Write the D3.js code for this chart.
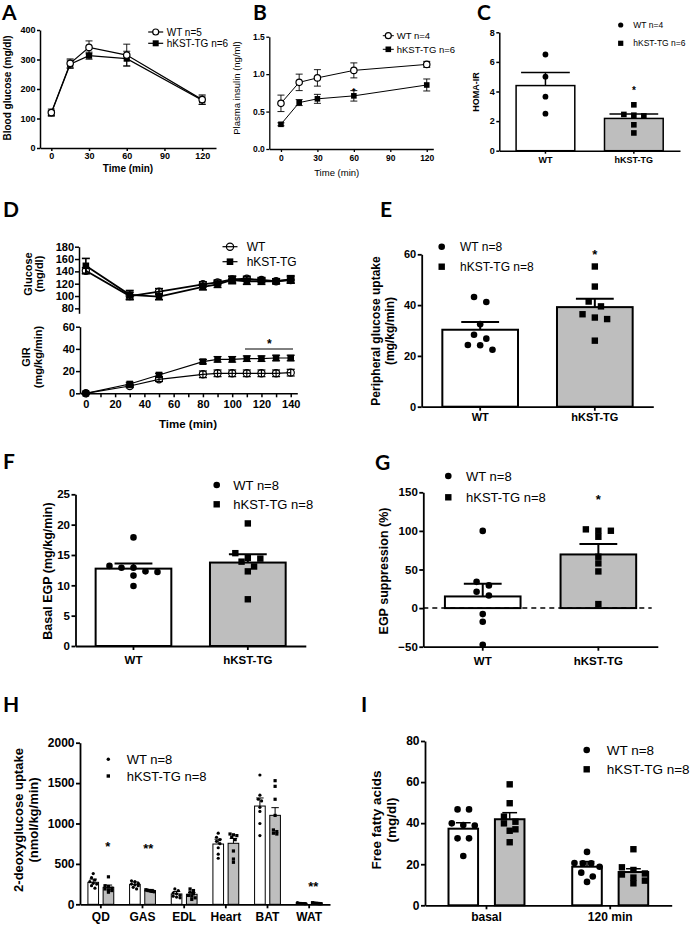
<!DOCTYPE html>
<html><head><meta charset="utf-8">
<script src="https://cdn.jsdelivr.net/npm/d3@7"></script>
<style>
body{margin:0;background:#fff;}
svg{display:block;}
</style></head><body>
<script>
// ================= DATA =================
// A: glucose tolerance test
const timeA = [0, 15, 30, 60, 120];
const gttWT = [120, 287, 341, 315, 164];
const gttWTsem = [12, 15, 22, 37, 16];
const gttTG = [118, 284, 313, 303, 162];
const gttTGsem = [8, 14, 12, 25, 14];
const ticksAy = [0, 100, 200, 300, 400];
const ticksAx = [0, 30, 60, 90, 120];
// B: plasma insulin
const timeB = [0, 15, 30, 60, 120];
const insWT = [0.61, 0.89, 0.95, 1.05, 1.13];
const insWTsem = [0.11, 0.11, 0.11, 0.10, 0.04];
const insTG = [0.33, 0.62, 0.67, 0.71, 0.855];
const insTGsem = [0.02, 0.04, 0.06, 0.07, 0.08];
const ticksBy = [0, 0.5, 1.0, 1.5];
const ticksBx = [0, 30, 60, 90, 120];
// C: HOMA-IR
const groups = ["WT", "hKST-TG"];
const homaWT = [6.5, 5.0, 3.65, 2.5];
const homaTG = [3.1, 2.45, 2.4, 2.35, 1.75, 1.2];
const homaMean = [4.4, 2.18];
const homaSem = [0.88, 0.3];
const ticksCy = [0, 2, 4, 6, 8];
// D: clamp
const timeD = [0, 30, 50, 80, 90, 100, 110, 120, 130, 140];
const clampGluWT = [141, 100, 107, 119, 122, 127, 128, 126, 124, 126];
const clampGluWTsem = [5, 6, 5, 4, 4, 5, 4, 4, 4, 5];
const clampGluTG = [149, 102, 99, 115, 119, 126, 124, 124, 124, 127];
const clampGluTGsem = [12, 7, 5, 5, 5, 6, 5, 5, 4, 6];
const girWT = [0, 6.6, 12.6, 17.1, 18, 18, 18, 18, 18, 18.6];
const girWTsem = [0.5, 1.5, 2, 3, 3, 3, 3, 3, 3, 3];
const girTG = [0, 8.4, 16.5, 28.5, 30.6, 30.6, 31.2, 31.2, 31.8, 31.8];
const girTGsem = [0.5, 1.5, 1.5, 2, 2.5, 2.5, 2.5, 2.5, 2.5, 2.5];
const ticksDgluY = [80, 100, 120, 140, 160, 180];
const ticksDgirY = [0, 20, 40, 60];
const ticksDx = [0, 10, 20, 30, 40, 50, 60, 70, 80, 90, 100, 110, 120, 130, 140];
// E: peripheral glucose uptake
const pguWT = [43.2, 41.2, 32.5, 28.3, 26.8, 24.3, 24.2, 22.4];
const pguTG = [55.2, 47.3, 41.4, 39.5, 36.4, 35.1, 34.5, 26];
const pguMean = [30.3, 39.2];
const pguSem = [3.0, 3.3];
const ticksEy = [0, 20, 40, 60];
// F: basal EGP
const egpWT = [17.9, 13.2, 12.9, 12.9, 12.3, 12.2, 11.6, 9.9];
const egpTG = [20.2, 15.3, 14.5, 14.4, 13.9, 13.1, 12.3, 7.7];
const egpMean = [12.75, 13.75];
const egpSem = [0.85, 1.35];
const ticksFy = [0, 5, 10, 15, 20, 25];
// G: EGP suppression
const supWT = [100, 34, 29.4, 21.2, 16.4, -7.8, -17.7, -47.5];
const supTG = [102, 100.2, 100.2, 92.4, 66.5, 57.9, 47.5, 5.2];
const supMean = [15.1, 69.5];
const supSem = [16.4, 13.5];
const ticksGy = [-50, 0, 50, 100, 150];
// H: 2-deoxyglucose uptake
const tissues = ["QD", "GAS", "EDL", "Heart", "BAT", "WAT"];
const dgWTmean = [272, 247, 128, 746, 1216, 12];
const dgWTsem = [40, 30, 30, 60, 100, 3];
const dgTGmean = [210, 169, 124, 755, 1101, 12];
const dgTGsem = [28, 15, 22, 60, 95, 3];
const dgWT_QD = [380, 330, 300, 280, 260, 250, 230, 200];
const dgTG_QD = [340, 230, 220, 200, 190, 180, 170, 150];
const dgWT_GAS = [290, 280, 260, 250, 240, 230, 210, 190];
const dgTG_GAS = [180, 175, 170, 170, 165, 160, 160, 155];
const dgWT_EDL = [190, 170, 140, 130, 110, 100, 90, 80];
const dgTG_EDL = [190, 170, 150, 130, 110, 100, 80, 60];
const dgWT_Heart = [880, 830, 800, 780, 750, 700, 620, 570];
const dgTG_Heart = [870, 860, 850, 830, 800, 660, 560, 520];
const dgWT_BAT = [1600, 1350, 1300, 1280, 1200, 1150, 1000, 850];
const dgTG_BAT = [1530, 1460, 1300, 1100, 920, 900, 880, 870];
const dgWT_WAT = [20, 15, 12, 12, 10, 10, 8, 8];
const dgTG_WAT = [20, 15, 12, 12, 10, 10, 8, 8];
const ticksHy = [0, 500, 1000, 1500, 2000];
// I: free fatty acids
const ffaCats = ["basal", "120 min"];
const ffaWTmean = [37.3, 18.8];
const ffaWTsem = [2.9, 2.5];
const ffaTGmean = [41.9, 16.2];
const ffaTGsem = [3.2, 1.6];
const ffaWT_basal = [46.7, 46.7, 39.9, 39.1, 38.8, 32.6, 32.6, 24];
const ffaTG_basal = [58.9, 49.7, 43.2, 40.7, 39.9, 37, 36.3, 30.7];
const ffaWT_120 = [26, 20.6, 20.4, 20.4, 18.8, 15.9, 14, 11.4];
const ffaTG_120 = [27.3, 18.5, 17.2, 15.5, 15, 13.5, 12, 10.7];
const ticksIy = [0, 20, 40, 60, 80];

// ================= HELPERS =================
const FONT = '"Liberation Sans", Arial, Helvetica, sans-serif';
const GRAY = "#bebebe";
const svg = d3.select("body").append("svg").attr("width", 694).attr("height", 925)
  .style("font-family", FONT);
svg.append("rect").attr("width", 694).attr("height", 925).attr("fill", "#fff");

function letter(t, x, y) {
  svg.append("text").attr("x", x).attr("y", y).attr("font-family", "Lato, 'Open Sans', sans-serif")
    .attr("font-weight", 700).attr("font-size", 21).attr("fill", "#000").text(t);
}
function styleAxis(a, fs, lw) {
  a.attr("font-family", FONT);
  a.select(".domain").attr("stroke", "#000").attr("stroke-width", lw || 1.5);
  a.selectAll(".tick line").attr("stroke", "#000").attr("stroke-width", lw || 1.5);
  a.selectAll(".tick text").attr("fill", "#000").attr("font-size", fs).attr("font-weight", "bold");
}
function yAxis(y, x, ticks, fs, fmt, ts, pad, lw) {
  const ax = d3.axisLeft(y).tickValues(ticks).tickSizeOuter(0).tickSizeInner(ts || 4).tickPadding(pad == null ? 1.5 : pad);
  ax.tickFormat(fmt || d3.format("d"));
  const a = svg.append("g").attr("transform", `translate(${x},0)`).call(ax);
  styleAxis(a, fs, lw); return a;
}
function xAxis(scale, y, ticks, fs, fmt, ts, pad, lw) {
  const ax = d3.axisBottom(scale).tickSizeOuter(0).tickSizeInner(ts || 4).tickPadding(pad == null ? 2 : pad);
  if (ticks) ax.tickValues(ticks);
  if (fmt) ax.tickFormat(fmt);
  const a = svg.append("g").attr("transform", `translate(0,${y})`).call(ax);
  styleAxis(a, fs, lw); return a;
}
function vtitle(lines, x, cy, fs, weight, lh) {
  const t = svg.append("text").attr("transform", `translate(${x},${cy}) rotate(-90)`)
    .attr("text-anchor", "middle").attr("font-size", fs).attr("font-weight", weight || "bold").attr("fill", "#000");
  lines.forEach((l, i) => t.append("tspan").attr("x", 0).attr("dy", i === 0 ? 0 : lh).text(l));
}
function htext(s, x, y, fs, weight, anchor) {
  svg.append("text").attr("x", x).attr("y", y).attr("font-size", fs).attr("font-weight", weight || "normal")
    .attr("text-anchor", anchor || "start").attr("fill", "#000").text(s);
}
function star(s, cx, cy, fs) {
  htext(s, cx, cy + 0.58 * fs, fs, "bold", "middle");
}
function marker(x, y, shape, r, sw) {
  if (shape === "circle") svg.append("circle").attr("cx", x).attr("cy", y).attr("r", r).attr("fill", "#000");
  else if (shape === "ocircle") svg.append("circle").attr("cx", x).attr("cy", y).attr("r", r)
    .attr("fill", "#fff").attr("stroke", "#000").attr("stroke-width", sw || 1.2);
  else if (shape === "ncircle") svg.append("circle").attr("cx", x).attr("cy", y).attr("r", r)
    .attr("fill", "none").attr("stroke", "#000").attr("stroke-width", sw || 1.2);
  else svg.append("rect").attr("x", x - r).attr("y", y - r).attr("width", 2 * r).attr("height", 2 * r).attr("fill", "#000");
}
function legendRow(x, cy, shape, r, tx, label, fs, span, lw) {
  if (span) svg.append("line").attr("x1", x - span).attr("x2", x + span).attr("y1", cy).attr("y2", cy)
    .attr("stroke", "#000").attr("stroke-width", lw || 1.2);
  marker(x, cy, shape, r);
  htext(label, tx, cy + 0.35 * fs, fs, "normal");
}
function seg(x1, y1, x2, y2, w, dash) {
  const l = svg.append("line").attr("x1", x1).attr("y1", y1).attr("x2", x2).attr("y2", y2)
    .attr("stroke", "#000").attr("stroke-width", w || 1.2);
  if (dash) l.attr("stroke-dasharray", dash);
  return l;
}
function lineSeries(x, y, t, v, sem, shape, r, lw, capW, elw) {
  const line = d3.line().x((d, i) => x(t[i])).y(d => y(d));
  svg.append("path").datum(v).attr("d", line).attr("fill", "none").attr("stroke", "#000").attr("stroke-width", lw);
  return () => {
    v.forEach((d, i) => {
      const cx = x(t[i]);
      const y1 = y(d + sem[i]), y2 = y(d - sem[i]);
      seg(cx, y1, cx, y2, elw);
      seg(cx - capW / 2, y1, cx + capW / 2, y1, elw);
      seg(cx - capW / 2, y2, cx + capW / 2, y2, elw);
    });
    v.forEach((d, i) => marker(x(t[i]), y(d), shape, r));
  };
}
function swarm(values, y, diam, spacing, maxW) {
  const sorted = values.map(v => ({ v, py: y(v) })).sort((a, b) => a.py - b.py);
  const out = []; let cl = [];
  const flush = () => {
    const n = cl.length;
    const sp = (maxW && n > 1) ? Math.min(spacing, maxW / (n - 1)) : spacing;
    cl.forEach((p, i) => { p.dx = (i - (n - 1) / 2) * sp; out.push(p); });
    cl = [];
  };
  sorted.forEach(p => { if (cl.length && p.py - cl[0].py >= diam) flush(); cl.push(p); });
  flush();
  return out;
}
function barGroup(x0, bw, y, base, mean, sem, fill, sw, capFrac, elw, pts, shape, r, spacing, maxW) {
  const yb = y(base), yt = y(mean);
  svg.append("rect").attr("x", x0).attr("y", Math.min(yb, yt)).attr("width", bw).attr("height", Math.abs(yb - yt))
    .attr("fill", fill).attr("stroke", "#000").attr("stroke-width", sw);
  const cx = x0 + bw / 2, ye = y(mean + sem);
  seg(cx, yt, cx, ye, elw);
  seg(cx - bw * capFrac / 2, ye, cx + bw * capFrac / 2, ye, elw);
  swarm(pts, y, 2 * r, spacing, maxW).forEach(p => marker(cx + p.dx, p.py, shape, r));
}

// ================= PANEL A =================
letter("A", 2, 20);
{
  const x = d3.scaleLinear().domain([-9, 131]).range([40, 216]);
  const y = d3.scaleLinear().domain([0, 400]).range([148, 30]);
  yAxis(y, 40, ticksAy, 9, null, 3, 1.5);
  xAxis(x, 148, ticksAx, 9, null, 3, 2);
  const fWT = lineSeries(x, y, timeA, gttWT, gttWTsem, "ocircle", 3.2, 1.2, 7, 0.9);
  const fTG = lineSeries(x, y, timeA, gttTG, gttTGsem, "square", 3.1, 1.2, 7, 0.9);
  fTG(); fWT();
  vtitle(["Blood glucose (mg/dl)"], 10.5, 88, 10, "bold");
  htext("Time (min)", 128, 171.5, 10, "bold", "middle");
  legendRow(155.7, 32, "ocircle", 3, 166.7, "WT n=5", 10, 7.5);
  legendRow(155.7, 43.3, "square", 3, 166.7, "hKST-TG n=6", 10, 7.5);
}

// ================= PANEL B =================
letter("B", 253, 20);
{
  const x = d3.scaleLinear().domain([-9.6, 125.4]).range([269.3, 433.3]);
  const y = d3.scaleLinear().domain([0, 1.5]).range([149, 36.7]);
  yAxis(y, 269.3, ticksBy, 8.5, d3.format(".1f"), 3, 1.5, 1.3);
  xAxis(x, 149, ticksBx, 8.5, null, 3, 3, 1.3);
  const fWT = lineSeries(x, y, timeB, insWT, insWTsem, "ocircle", 3.2, 1, 7, 0.9);
  const fTG = lineSeries(x, y, timeB, insTG, insTGsem, "square", 2.8, 1, 7, 0.9);
  fTG(); fWT();
  star("*", x(60), 88.3, 9);
  vtitle(["Plasma insulin (ng/ml)"], 240, 88, 9.5, "normal");
  htext("Time (min)", 336.7, 176, 9.5, "normal", "middle");
  legendRow(388.3, 35.7, "ocircle", 3, 396.7, "WT n=4", 9.5, 5.5, 1);
  legendRow(388.3, 49.3, "square", 2.8, 396.7, "hKST-TG n=6", 9.5, 5.5, 1);
}

// ================= PANEL C =================
letter("C", 477, 20);
{
  const y = d3.scaleLinear().domain([0, 8]).range([150.7, 32.3]);
  const x = d3.scaleBand().domain(groups).range([499.3, 680]).paddingInner(0.336).paddingOuter(0.19);
  const bw = x.bandwidth();
  barGroup(x("WT"), bw, y, 0, homaMean[0], homaSem[0], "#fff", 1.5, 0.83, 1.5, homaWT, "circle", 2.9, 9);
  barGroup(x("hKST-TG"), bw, y, 0, homaMean[1], homaSem[1], GRAY, 1.5, 0.83, 1.5, homaTG, "square", 2.8, 10);
  yAxis(y, 499.3, ticksCy, 9, null, 3, 1.5);
  xAxis(x, 150.7, null, 9, null, 3, 3);
  star("*", x("hKST-TG") + bw / 2, 88.3, 10);
  vtitle(["HOMA-IR"], 478.5, 92, 9, "bold");
  legendRow(620.7, 25, "circle", 2.6, 633.3, "WT n=4", 8.5);
  legendRow(620.7, 43.3, "square", 2.6, 633.3, "hKST-TG n=6", 8.5);
}

// ================= PANEL D =================
letter("D", 3, 217);
{
  const x = d3.scaleLinear().domain([-4, 144.5]).range([80, 297.3]);
  const yG = d3.scaleLinear().domain([72, 180]).range([313.3, 246.7]);
  const yR = d3.scaleLinear().domain([0, 60]).range([393.3, 326.7]);
  // top glucose
  const fWT = lineSeries(x, yG, timeD, clampGluWT, clampGluWTsem, "ncircle", 3.6, 1.8, 8, 1.6);
  const fTG = lineSeries(x, yG, timeD, clampGluTG, clampGluTGsem, "square", 3.3, 1.8, 8, 1.6);
  fWT(); fTG();
  yAxis(yG, 79, ticksDgluY, 11, null, 4, 1);
  // bottom GIR
  const gWT = lineSeries(x, yR, timeD, girWT, girWTsem, "ncircle", 3.6, 1.2, 8, 1.2);
  const gTG = lineSeries(x, yR, timeD, girTG, girTGsem, "square", 3.3, 1.2, 8, 1.2);
  gWT(); gTG();
  yAxis(yR, 80, ticksDgirY, 11, null, 4, 1);
  xAxis(x, 393.3, ticksDx, 11, d => d % 20 === 0 ? d : "", 4, 3);
  seg(245, 349, 293, 349, 1);
  star("*", 269.3, 341, 12);
  vtitle(["Glucose", "(mg/dl)"], 31.5, 274, 11, "bold", 11);
  vtitle(["GIR", "(mg/kg/min)"], 30, 357, 11, "bold", 11.5);
  htext("Time (min)", 188, 428, 11.5, "bold", "middle");
  legendRow(230, 246.7, "ncircle", 3.6, 246.7, "WT", 12, 7.5);
  legendRow(230, 261.7, "square", 3.3, 246.7, "hKST-TG", 12, 7.5);
}

// ================= PANEL E =================
letter("E", 380, 217);
{
  const y = d3.scaleLinear().domain([0, 60]).range([406.7, 254.3]);
  const x = d3.scaleBand().domain(groups).range([421.7, 653.3]).paddingInner(0.34).paddingOuter(0.18);
  const bw = x.bandwidth();
  barGroup(x("WT"), bw, y, 0, pguMean[0], pguSem[0], "#fff", 2, 0.5, 2, pguWT, "circle", 3.3, 12.3);
  barGroup(x("hKST-TG"), bw, y, 0, pguMean[1], pguSem[1], GRAY, 2, 0.5, 2, pguTG, "square", 3.2, 12.3);
  yAxis(y, 421.7, ticksEy, 11, null, 4, 1.5, 1.8);
  xAxis(x, 406.7, null, 11, null, 4, 3, 1.8);
  star("*", x("hKST-TG") + bw / 2, 251.7, 13);
  vtitle(["Peripheral glucose uptake", "(mg/kg/min)"], 380, 331, 12, "bold", 13.5);
  legendRow(441.7, 246.7, "circle", 3.3, 460, "WT n=8", 12);
  legendRow(441.7, 266.7, "square", 3.2, 460, "hKST-TG n=8", 12);
}

// ================= PANEL F =================
letter("F", 3, 469);
{
  const y = d3.scaleLinear().domain([0, 25]).range([646, 494.3]);
  const x = d3.scaleBand().domain(groups).range([75.5, 305.8]).paddingInner(0.338).paddingOuter(0.176);
  const bw = x.bandwidth();
  barGroup(x("WT"), bw, y, 0, egpMean[0], egpSem[0], "#fff", 2, 0.5, 2, egpWT, "circle", 3.3, 12);
  barGroup(x("hKST-TG"), bw, y, 0, egpMean[1], egpSem[1], GRAY, 2, 0.5, 2, egpTG, "square", 3.2, 12.5);
  yAxis(y, 75.5, ticksFy, 11.5, null, 4, 1.5, 1.8);
  xAxis(x, 646, null, 11.5, null, 4, 6, 1.8);
  vtitle(["Basal EGP (mg/kg/min)"], 51.5, 571, 12.5, "bold");
  legendRow(216.7, 485, "circle", 3.3, 233.3, "WT n=8", 13);
  legendRow(216.7, 504.3, "square", 3.2, 233.3, "hKST-TG n=8", 13);
}

// ================= PANEL G =================
letter("G", 375, 470);
{
  const y = d3.scaleLinear().domain([-50, 150]).range([646.7, 492.3]);
  const x = d3.scaleBand().domain(groups).range([423.3, 657.8]).paddingInner(0.346).paddingOuter(0.187);
  const bw = x.bandwidth();
  barGroup(x("WT"), bw, y, 0, supMean[0], supSem[0], "#fff", 2, 0.5, 2, supWT, "circle", 3.3, 12.3);
  barGroup(x("hKST-TG"), bw, y, 0, supMean[1], supSem[1], GRAY, 2, 0.5, 2, supTG, "square", 3.2, 12.5);
  seg(423.3, y(0), 651.7, y(0), 1.5, "5,4");
  yAxis(y, 423.3, ticksGy, 11.5, null, 4, 1.5, 1.8);
  xAxis(x, 646.7, null, 11.5, null, 4, 6, 1.8);
  star("*", x("hKST-TG") + bw / 2, 496.7, 13);
  vtitle(["EGP suppression (%)"], 387.5, 571, 12.5, "bold");
  legendRow(448.3, 476, "circle", 3.3, 466, "WT n=8", 13);
  legendRow(448.3, 497.3, "square", 3.2, 466, "hKST-TG n=8", 13);
}

// ================= PANEL H =================
letter("H", 3, 712);
{
  const y = d3.scaleLinear().domain([0, 2000]).range([904.3, 742.7]);
  const x = d3.scaleBand().domain(tissues).range([80, 330]).paddingInner(0.38).paddingOuter(0.19);
  const xi = d3.scaleBand().domain(groups).range([0, x.bandwidth()]).paddingInner(0.3);
  const bw = xi.bandwidth();
  const wtPts = [dgWT_QD, dgWT_GAS, dgWT_EDL, dgWT_Heart, dgWT_BAT, dgWT_WAT];
  const tgPts = [dgTG_QD, dgTG_GAS, dgTG_EDL, dgTG_Heart, dgTG_BAT, dgTG_WAT];
  tissues.forEach((t, i) => {
    barGroup(x(t) + xi("WT"), bw, y, 0, dgWTmean[i], dgWTsem[i], "#fff", 1, 0.7, 1, wtPts[i], "circle", 1.6, 3.4, bw * 0.8);
    barGroup(x(t) + xi("hKST-TG"), bw, y, 0, dgTGmean[i], dgTGsem[i], GRAY, 1, 0.7, 1, tgPts[i], "square", 1.6, 3.4, bw * 0.8);
  });
  yAxis(y, 80, ticksHy, 12, null, 4, 1.5, 1.8);
  xAxis(x, 904.3, null, 12, null, 4, 4, 1.8);
  star("*", 107.7, 843.3, 13);
  star("**", 148.3, 845, 13);
  star("**", 313.3, 883.3, 13);
  vtitle(["2-deoxyglucose uptake", "(nmol/kg/min)"], 23, 820, 13, "bold", 15);
  legendRow(108.3, 759.3, "circle", 1.7, 126.7, "WT n=8", 13);
  legendRow(108.3, 776, "square", 1.7, 126.7, "hKST-TG n=8", 13);
}

// ================= PANEL I =================
letter("I", 361, 712);
{
  const y = d3.scaleLinear().domain([0, 80]).range([905.3, 741]);
  const x = d3.scaleBand().domain(ffaCats).range([425, 671.7]).paddingInner(0.386).paddingOuter(0.19);
  const xi = d3.scaleBand().domain(groups).range([0, x.bandwidth()]).paddingInner(0.363);
  const bw = xi.bandwidth();
  const wtPts = [ffaWT_basal, ffaWT_120];
  const tgPts = [ffaTG_basal, ffaTG_120];
  ffaCats.forEach((c, i) => {
    barGroup(x(c) + xi("WT"), bw, y, 0, ffaWTmean[i], ffaWTsem[i], "#fff", 2, 0.5, 1.5, wtPts[i], "circle", 3.3, 11.5, bw * 0.85);
    barGroup(x(c) + xi("hKST-TG"), bw, y, 0, ffaTGmean[i], ffaTGsem[i], GRAY, 2, 0.5, 1.5, tgPts[i], "square", 3.2, 11.5, bw * 0.85);
  });
  yAxis(y, 425, ticksIy, 12, null, 4, 1.5, 1.8);
  xAxis(x, 905.3, null, 12, null, 4, 3, 1.8);
  vtitle(["Free fatty acids", "(mg/dl)"], 381, 820, 13.5, "bold", 14.5);
  legendRow(586.7, 750, "circle", 3.3, 606.7, "WT n=8", 13.5);
  legendRow(586.7, 769.3, "square", 3.2, 606.7, "hKST-TG n=8", 13.5);
}
</script>
</body></html>
